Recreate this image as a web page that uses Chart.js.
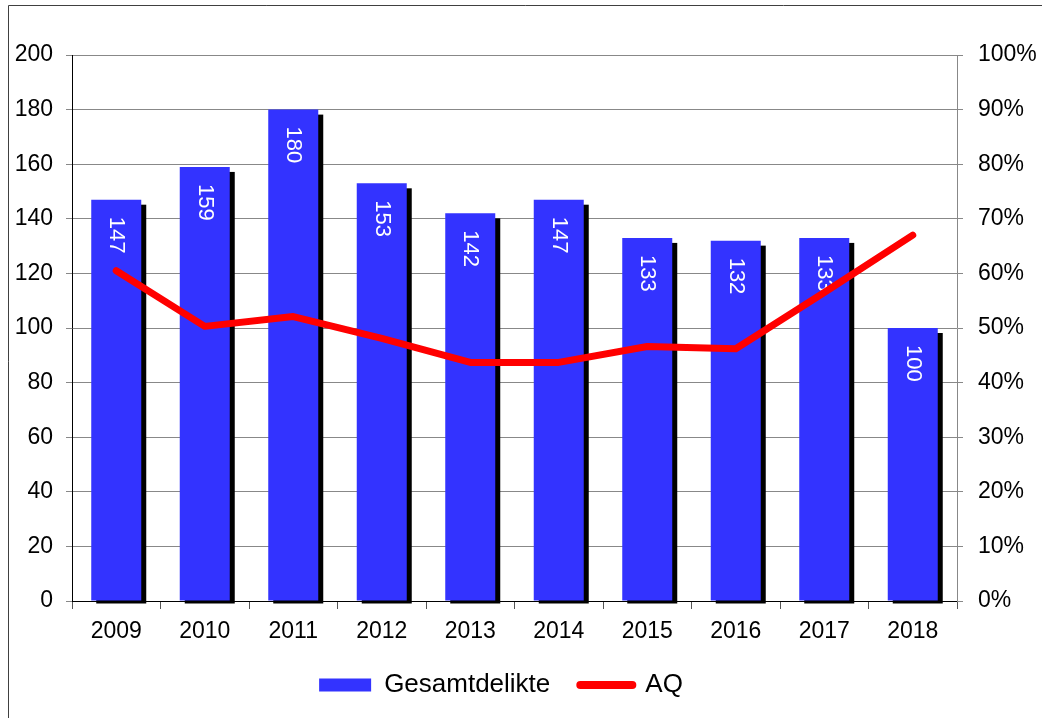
<!DOCTYPE html>
<html>
<head>
<meta charset="utf-8">
<script src="https://cdn.jsdelivr.net/npm/chart.js@4/dist/chart.umd.min.js"></script>
<style>
  html, body { margin: 0; background: #fff; }
  #wrap { position: relative; width: 1042px; height: 718px; }
</style>
</head>
<body>
<div id="wrap"><canvas id="chart"></canvas></div>
<script>
const years = ['2009', '2010', '2011', '2012', '2013', '2014', '2015', '2016', '2017', '2018'];
const gesamtdelikte = [147, 159, 180, 153, 142, 147, 133, 132, 133, 100];
const aq = [60.5, 50.3, 52.1, 48.1, 43.7, 43.7, 46.6, 46.2, 56.5, 67.0];

const BLUE = '#3333ff';
const RED = '#ff0000';
const FONT = "'Liberation Sans', Arial, sans-serif";

Chart.defaults.font.family = FONT;
Chart.defaults.color = '#000';

// outer frame (only left + top edges visible in the original)
const framePlugin = {
    id: 'frame',
    afterDraw(chart) {
        const ctx = chart.ctx;
        ctx.save();
        ctx.strokeStyle = '#404040';
        ctx.lineWidth = 1;
        ctx.beginPath();
        ctx.moveTo(8.5, chart.height);
        ctx.lineTo(8.5, 5.5);
        ctx.lineTo(chart.width, 5.5);
        ctx.stroke();
        ctx.restore();
    }
};

// legend sits a bit left of centre in the original
const legendShift = {
    id: 'legendShift',
    afterLayout(chart) {
        chart.legend.left -= 20;
        chart.legend.right -= 20;
    }
};

// black drop shadow behind each bar
const shadowPlugin = {
    id: 'barShadow',
    beforeDatasetsDraw(chart) {
        const ctx = chart.ctx;
        const meta = chart.getDatasetMeta(0);
        ctx.save();
        ctx.fillStyle = '#000';
        meta.data.forEach(bar => {
            const p = bar.getProps(['x', 'y', 'base', 'width'], true);
            ctx.fillRect(p.x - p.width / 2 + 5, p.y + 5, p.width, p.base - p.y - 2);
        });
        ctx.restore();
    }
};

// rotated white value labels inside the bars
const labelPlugin = {
    id: 'barLabels',
    afterDatasetDraw(chart, args) {
        if (args.index !== 0) return;
        const ctx = chart.ctx;
        ctx.save();
        ctx.fillStyle = '#fff';
        ctx.font = '22px ' + FONT;
        ctx.textAlign = 'left';
        ctx.textBaseline = 'middle';
        args.meta.data.forEach((bar, i) => {
            ctx.save();
            ctx.translate(bar.x, bar.y + 17);
            ctx.rotate(Math.PI / 2);
            ctx.fillText(String(gesamtdelikte[i]), 0, 0);
            ctx.restore();
        });
        ctx.restore();
    }
};

const ctx = document.getElementById('chart').getContext('2d');
const chart = new Chart(ctx, {
    data: {
        labels: years,
        datasets: [{
            type: 'bar',
            label: 'Gesamtdelikte',
            data: gesamtdelikte,
            backgroundColor: BLUE,
            borderWidth: 0,
            categoryPercentage: 1,
            barPercentage: 0.565,
            yAxisID: 'y',
            order: 1
        }, {
            type: 'line',
            label: 'AQ',
            data: aq,
            borderColor: RED,
            backgroundColor: RED,
            borderWidth: 7,
            borderCapStyle: 'round',
            borderJoinStyle: 'round',
            pointRadius: 0,
            tension: 0,
            yAxisID: 'y1',
            order: 0
        }]
    },
    options: {
        responsive: true,
        maintainAspectRatio: false,
        animation: false,
        layout: { padding: { top: 55, left: 0, right: 0, bottom: 10 } },
        plugins: {
            tooltip: { enabled: false },
            legend: {
                position: 'bottom',
                labels: {
                    usePointStyle: true,
                    pointStyleWidth: 52,
                    boxHeight: 13,
                    padding: 30,
                    font: { size: 26 },
                    color: '#000',
                    generateLabels: () => [
                        { text: 'Gesamtdelikte', fillStyle: BLUE, strokeStyle: BLUE, lineWidth: 0, pointStyle: 'rect', datasetIndex: 0 },
                        { text: 'AQ', fillStyle: RED, strokeStyle: RED, lineWidth: 8, lineCap: 'round', pointStyle: 'line', datasetIndex: 1 }
                    ]
                }
            }
        },
        scales: {
            x: {
                grid: { offset: true, drawOnChartArea: false, tickLength: 8, color: '#555' },
                border: { color: '#000' },
                ticks: { font: { size: 23 }, padding: 9, color: '#000' },
                afterFit(scale) { scale.height = 41; }
            },
            y: {
                position: 'left',
                min: 0,
                max: 200,
                ticks: { stepSize: 20, font: { size: 23 }, padding: 13, color: '#000' },
                grid: { color: '#888', tickLength: 6 },
                border: { color: '#000' },
                afterFit(scale) { scale.width = 72; }
            },
            y1: {
                position: 'right',
                min: 0,
                max: 100,
                ticks: { stepSize: 10, font: { size: 23 }, padding: 15, color: '#000', callback: v => v + '%' },
                grid: { drawOnChartArea: false, color: '#888', tickLength: 6 },
                border: { color: '#888' },
                afterFit(scale) { scale.width = 85; }
            }
        }
    },
    plugins: [shadowPlugin, labelPlugin, legendShift, framePlugin]
});
</script>
</body>
</html>
